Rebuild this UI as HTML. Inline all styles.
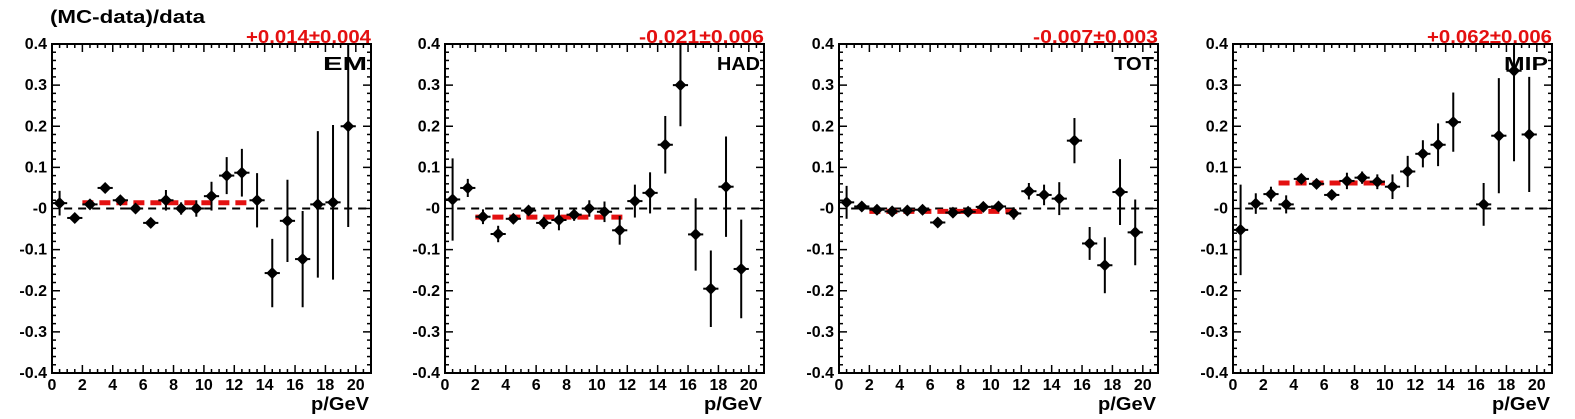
<!DOCTYPE html>
<html><head><meta charset="utf-8"><style>
body{margin:0;background:#fff;}
svg{display:block;font-family:"Liberation Sans",Arial,sans-serif;font-weight:bold;}
</style></head><body>
<svg id="chart" width="1575" height="419" viewBox="0 0 1575 419"></svg>
<script>
const xCenters=[0.5,1.5,2.5,3.5,4.5,5.5,6.5,7.5,8.5,9.5,10.5,11.5,12.5,13.5,14.5,15.5,16.5,17.5,18.5,19.5];
const emVals=[0.013,-0.023,0.01,0.05,0.02,0.0,-0.035,0.02,0.0,0.0,0.03,0.08,0.087,0.02,-0.157,-0.03,-0.123,0.01,0.015,0.2];
const emErrs=[0.03,0.005,0.008,0.01,0.005,0.005,0.01,0.025,0.015,0.02,0.035,0.045,0.058,0.066,0.083,0.1,0.117,0.178,0.188,0.245];
const hadVals=[0.022,0.05,-0.02,-0.062,-0.025,-0.005,-0.035,-0.028,-0.015,0.0,-0.008,-0.053,0.018,0.038,0.155,0.3,-0.063,-0.195,0.053,-0.147];
const hadErrs=[0.1,0.022,0.018,0.02,0.006,0.01,0.015,0.025,0.015,0.02,0.025,0.035,0.04,0.05,0.07,0.1,0.088,0.093,0.122,0.12];
const totVals=[0.015,0.005,-0.003,-0.007,-0.005,-0.003,-0.034,-0.01,-0.008,0.004,0.005,-0.012,0.042,0.033,0.024,0.165,-0.085,-0.138,0.04,-0.058];
const totErrs=[0.04,0.008,0.005,0.007,0.005,0.005,0.006,0.01,0.006,0.006,0.01,0.015,0.02,0.025,0.04,0.055,0.04,0.068,0.08,0.08];
const mipVals=[-0.052,0.012,0.035,0.01,0.072,0.06,0.033,0.067,0.075,0.065,0.053,0.09,0.133,0.155,0.21,null,0.01,0.177,0.335,0.18];
const mipErrs=[0.11,0.025,0.018,0.022,0.005,0.005,0.01,0.02,0.015,0.018,0.03,0.038,0.033,0.052,0.072,null,0.052,0.14,0.22,0.14];
const panelNames=["EM","HAD","TOT","MIP"];
const fitValues=[0.014,-0.021,-0.007,0.062];
const fitLabels=["+0.014\u00b10.004","-0.021\u00b10.006","-0.007\u00b10.003","+0.062\u00b10.006"];
const fitStart=[2,2,2,3];
const fitEnd=[13,12,12,10];
const xTicks=[0,2,4,6,8,10,12,14,16,18,20];
const yTicks=[0.4,0.3,0.2,0.1,0,-0.1,-0.2,-0.3,-0.4];
const yTickLabels=["0.4","0.3","0.2","0.1","-0","-0.1","-0.2","-0.3","-0.4"];
const allVals=[emVals,hadVals,totVals,mipVals];
const allErrs=[emErrs,hadErrs,totErrs,mipErrs];

const NS="http://www.w3.org/2000/svg";
const svg=document.getElementById('chart');
function mk(tag,attrs,parent){const e=document.createElementNS(NS,tag);for(const k in attrs)e.setAttribute(k,attrs[k]);(parent||svg).appendChild(e);return e;}

const lefts=[52,445,839,1233];
const W=319, TOP=44, BOT=373;
const XMAX=21, YMIN=-0.4, YMAX=0.4;
const labelW=[44,43,40,44];

const t=mk('text',{x:50,y:23,'font-size':18,fill:'#000',textLength:155,lengthAdjust:'spacingAndGlyphs'});


t.textContent='(MC-data)/data';

for(let p=0;p<4;p++){
  const L=lefts[p];
  const sx=v=>L+v/XMAX*W;
  const sy=v=>TOP+(YMAX-v)/(YMAX-YMIN)*(BOT-TOP);
  const g=mk('g',{});
  
  
  for(let v=0;v<=XMAX+1e-6;v+=0.5){
    const major=Math.abs(v/2-Math.round(v/2))<1e-6;
    const len=major?8:4;
    mk('line',{x1:sx(v),x2:sx(v),y1:BOT,y2:BOT-len,stroke:'#000','stroke-width':1.5},g);
    mk('line',{x1:sx(v),x2:sx(v),y1:TOP,y2:TOP+len,stroke:'#000','stroke-width':1.5},g);
  }
  for(let i=0;i<=40;i++){
    const v=YMIN+i*0.02;const major=i%5==0;const len=major?8:4;
    mk('line',{x1:L,x2:L+len,y1:sy(v),y2:sy(v),stroke:'#000','stroke-width':1.5},g);
    mk('line',{x1:L+W,x2:L+W-len,y1:sy(v),y2:sy(v),stroke:'#000','stroke-width':1.5},g);
  }
  xTicks.forEach(v=>{const tx=mk('text',{x:sx(v),y:BOT+17,'font-size':16,'text-anchor':'middle'},g);
    
    
    tx.textContent=v;});
  yTicks.forEach((v,i)=>{const ty=mk('text',{x:L-5,y:sy(v)+5,'font-size':16,'text-anchor':'end'},g);
    
    
    ty.textContent=yTickLabels[i];});
  const z=mk('line',{x1:sx(0.8),x2:sx(XMAX),y1:sy(0),y2:sy(0),stroke:'#000','stroke-width':2,'stroke-dasharray':'8 6'},g);
  
  
  const f=mk('line',{x1:sx(fitStart[p]),x2:sx(fitEnd[p]),y1:sy(fitValues[p]),y2:sy(fitValues[p]),stroke:'#e41010','stroke-width':5,'stroke-dasharray':'11 6'},g);
  
  
  const vals=allVals[p], errs=allErrs[p];
  const clip=v=>Math.max(YMIN,Math.min(YMAX,v));
  xCenters.forEach((x,i)=>{
    if(vals[i]===null)return;
    const pg=mk('g',{},g);
    
    
    const cx=sx(x), cy=sy(vals[i]);
    mk('line',{x1:cx,x2:cx,y1:sy(clip(vals[i]+errs[i])),y2:sy(clip(vals[i]-errs[i])),stroke:'#000','stroke-width':2},pg);
    mk('line',{x1:sx(x-0.5),x2:sx(x+0.5),y1:cy,y2:cy,stroke:'#000','stroke-width':2},pg);
    mk('polygon',{points:`${cx},${cy-6} ${cx+6},${cy} ${cx},${cy+6} ${cx-6},${cy}`,fill:'#000'},pg);
  });
  const fr=mk('rect',{x:L,y:TOP,width:W,height:BOT-TOP,fill:'none',stroke:'#000','stroke-width':2},g);
  
  
  const nm=mk('text',{x:L+W-labelW[p]-4,y:70,'font-size':18,textLength:labelW[p],lengthAdjust:'spacingAndGlyphs'},g);
  
  
  nm.textContent=panelNames[p];
  const fl=mk('text',{x:L+W-125,y:43,'font-size':18,fill:'#e41010',textLength:125,lengthAdjust:'spacingAndGlyphs'},g);
  
  
  fl.textContent=fitLabels[p];
  const xl=mk('text',{x:L+W-60,y:410,'font-size':18,textLength:58,lengthAdjust:'spacingAndGlyphs'},g);
  
  
  xl.textContent='p/GeV';
}
</script>
</body></html>
